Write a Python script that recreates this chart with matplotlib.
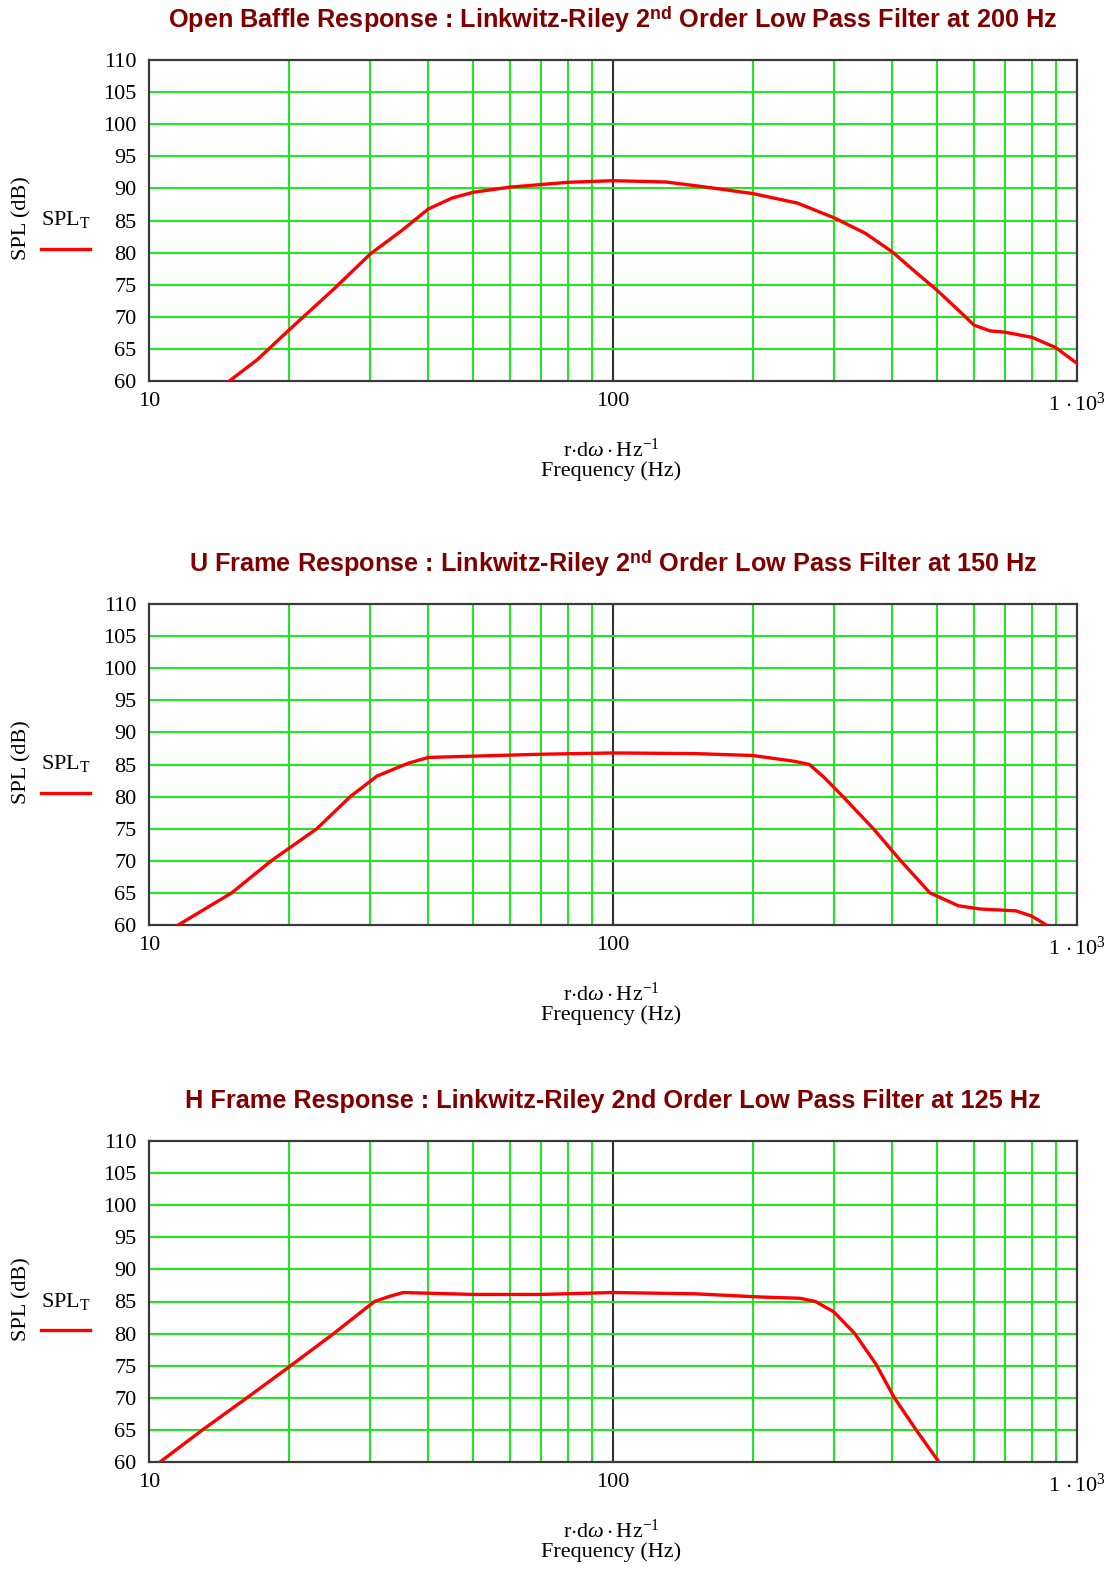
import matplotlib
matplotlib.use("Agg")
import matplotlib.pyplot as plt
from matplotlib import font_manager
from matplotlib.lines import Line2D
from matplotlib.ticker import NullLocator

# --- datos (frecuencia en Hz, SPL en dB) ---
ob_freq = [14.9, 17.1, 20, 25, 30, 35, 40, 45, 50, 60, 70, 80, 100, 130, 155,
           200, 250, 300, 350, 400, 450, 500, 550, 600, 650, 700, 800, 900, 1000]
ob_spl = [60.0, 63.3, 67.9, 74.3, 79.8, 83.4, 86.8, 88.5, 89.4, 90.2, 90.6, 90.95, 91.2, 91.0, 90.3,
          89.2, 87.7, 85.4, 83.0, 80.1, 76.9, 74.1, 71.3, 68.7, 67.8, 67.6, 66.8, 65.2, 62.75]

uf_freq = [11.56, 15.07, 18.34, 23.0, 27.15, 31.0, 36.2, 40, 50, 70, 100, 150, 200, 246,
           265, 285, 313, 364, 417, 482, 555, 617, 739, 798, 859]
uf_spl = [60.0, 65.0, 70.0, 75.0, 80.0, 83.2, 85.2, 86.1, 86.3, 86.6, 86.8, 86.7, 86.4, 85.5,
          85.0, 83.0, 80.0, 75.0, 70.0, 65.0, 63.0, 62.5, 62.2, 61.4, 60.0]

hf_freq = [10.56, 13.04, 16.26, 20.2, 25.0, 30.6, 33.0, 35.3, 50, 70, 100, 150, 208, 253,
           273, 299, 332, 369, 404, 450, 504]
hf_spl = [60.0, 65.0, 70.0, 75.0, 80.0, 85.0, 85.8, 86.4, 86.1, 86.1, 86.4, 86.2, 85.7, 85.5,
          85.0, 83.4, 80.0, 75.2, 70.0, 65.0, 60.0]

titles = [
    r"Open Baffle Response : Linkwitz-Riley 2$^{\mathbf{nd}}$ Order Low Pass Filter at 200 Hz",
    r"U Frame Response : Linkwitz-Riley 2$^{\mathbf{nd}}$ Order Low Pass Filter at 150 Hz",
    "H Frame Response : Linkwitz-Riley 2nd Order Low Pass Filter at 125 Hz",
]
series = [(ob_freq, ob_spl), (uf_freq, uf_spl), (hf_freq, hf_spl)]
y_ticks = list(range(60, 111, 5))
x_ticks = [10, 100, 1000]
x_ticklabels = ["10", "100", r"1$\,\cdot$10$^{3}$"]

disponibles = {f.name for f in font_manager.fontManager.ttflist}
SERIF = "Liberation Serif" if "Liberation Serif" in disponibles else "DejaVu Serif"
TITLE = "Liberation Sans" if "Liberation Sans" in disponibles else "DejaVu Sans"

plt.rcParams["font.family"] = [SERIF, "DejaVu Serif"]
plt.rcParams["mathtext.fontset"] = "custom"
plt.rcParams["mathtext.rm"] = SERIF
plt.rcParams["mathtext.it"] = SERIF + ":italic"
plt.rcParams["mathtext.bf"] = TITLE + ":bold"

W, H = 1112, 1573
fig = plt.figure(figsize=(W / 100, H / 100), dpi=100)

def fx(px):
    return px / W

def fy(py):
    return 1 - py / H

GREEN = "#22e622"
RED = "#ff0000"
TITLE_COLOR = "#800000"
FS = 16

tops = [60, 604, 1141]
left, right = 149, 1077
alto = 321

for top, title, (freq, spl) in zip(tops, titles, series):
    bottom = top + alto
    ax = fig.add_axes([fx(left), fy(bottom), fx(right - left), alto / H])
    ax.set_xscale("log")
    ax.set_xlim(10, 1000)
    ax.set_ylim(60, 110)

    # rejilla estilo Mathcad
    for dec in (10, 100):
        for m in range(2, 10):
            ax.axvline(dec * m, color=GREEN, lw=1.5, zorder=1)
    ax.axvline(100, color="#333333", lw=1.5, zorder=1)
    for yv in y_ticks[1:-1]:
        ax.axhline(yv, color=GREEN, lw=1.5, zorder=1)

    ax.plot(freq, spl, color=RED, lw=2.4, zorder=3)

    ax.set_yticks(y_ticks)
    ax.set_xticks(x_ticks)
    ax.set_xticklabels(x_ticklabels)
    ax.xaxis.set_minor_locator(NullLocator())
    ax.tick_params(length=0, labelsize=FS, colors="black")
    ax.tick_params(axis="y", pad=9)
    ax.tick_params(axis="x", pad=8)
    for sp in ax.spines.values():
        sp.set_color("#3a3a3a")
        sp.set_linewidth(1.6)

    fig.text(fx(613), fy(top - 40), title, ha="center", va="center",
             fontsize=18.2, fontweight="bold", color=TITLE_COLOR, family=[TITLE, "DejaVu Sans"])

    # etiquetas de ejes
    fig.text(fx(611), fy(bottom + 69), r"r$\cdot$d$\omega\cdot$Hz$^{-1}$",
             ha="center", va="center", fontsize=FS)
    fig.text(fx(611), fy(bottom + 90), "Frequency (Hz)", ha="center", va="center", fontsize=FS)
    fig.text(fx(22), fy(top + 158), "SPL (dB)", rotation=90, ha="center", va="center", fontsize=FS)

    # leyenda
    fig.text(fx(66), fy(top + 160), r"SPL$_{\mathrm{T}}$", ha="center", va="center", fontsize=FS)
    fig.add_artist(Line2D([fx(41), fx(90)], [fy(top + 189), fy(top + 189)],
                          transform=fig.transFigure, color=RED, lw=2.4))

fig.savefig("out.png", dpi=100, facecolor="white")
